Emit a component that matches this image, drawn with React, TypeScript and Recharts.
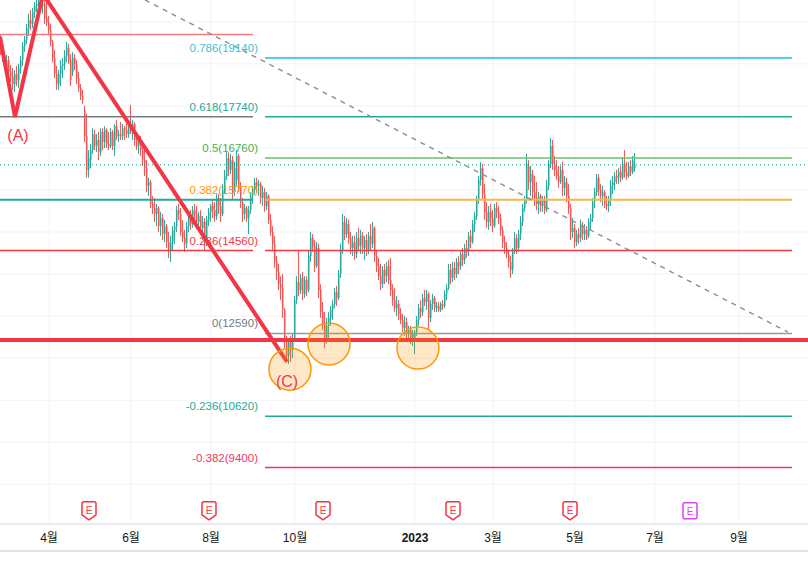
import React from 'react'
import {
  ComposedChart,
  Bar,
  Line,
  XAxis,
  YAxis,
  CartesianGrid,
  ReferenceLine,
  ReferenceDot,
} from 'recharts'

// daily candles [open, high, low, close], one array per month
const mar22 = [
  [19450, 19690, 19210, 19330], [19330, 19450, 19040, 19140], [19140, 19280, 18850, 18950], [18950, 19210, 18810, 19090],
  [19090, 19190, 18660, 18810], [18810, 18970, 18570, 18710], [18710, 18900, 18380, 18520], [18520, 18850, 18330, 18760],
  [18760, 18950, 18470, 18620], [18620, 19000, 18430, 18900], [18900, 19190, 18760, 19090], [19090, 19520, 18950, 19420],
  [19420, 19660, 19280, 19570], [19570, 19950, 19470, 19850], [19850, 20190, 19660, 20040], [20040, 20280, 19800, 19950],
  [19950, 20330, 19850, 20230], [20230, 20470, 20090, 20380], [20380, 20570, 20230, 20420], [20420, 20610, 20280, 20470],
  [20470, 20660, 20330, 20380], [20380, 20570, 20190, 20420], [20420, 20590, 19950, 20090], [20090, 20470, 19900, 19990],
]
const apr22 = [
  [19990, 20140, 19710, 19800], [19800, 19950, 19420, 19520], [19520, 19570, 19040, 19140], [19140, 19330, 18660, 18760],
  [18760, 18950, 18380, 18520], [18520, 18850, 18380, 18760], [18760, 19090, 18470, 18950], [18950, 19140, 18660, 19000],
  [19000, 19330, 18850, 19190], [19190, 19520, 19040, 19380], [19380, 19470, 19000, 19090], [19090, 19230, 18470, 18620],
  [18810, 19280, 18710, 19140], [19140, 19230, 18850, 19000], [19000, 19090, 18520, 18660], [18660, 18810, 18330, 18430],
  [18430, 18520, 18140, 18240], [18240, 18380, 18050, 18140], [17900, 18000, 17140, 17280], [17280, 17810, 16290, 16480],
  [16480, 16950, 16290, 16760],
]
const may22 = [
  [16710, 17090, 16520, 16950], [16950, 17470, 16860, 17330], [17330, 17430, 16950, 17050], [17050, 17330, 16900, 17190],
  [17190, 17380, 16710, 16900], [16900, 17470, 16810, 17380], [17380, 17470, 16950, 17140], [17140, 17520, 17000, 17430],
  [17430, 17470, 17000, 17090], [17090, 17380, 16950, 17050], [17050, 17470, 17000, 17380], [17380, 17430, 16950, 17050],
  [17050, 17570, 16810, 17520], [17520, 17660, 17190, 17280], [17280, 17430, 17140, 17330], [17330, 17620, 17190, 17280],
  [17280, 17570, 17190, 17470], [17470, 17520, 17190, 17430], [17430, 17570, 17240, 17330], [17330, 17520, 17240, 17470],
]
const jun22 = [
  [17470, 18020, 17330, 17430], [17430, 17660, 17190, 17570], [17570, 17620, 17050, 17190], [17190, 17330, 16950, 17050],
  [17050, 17240, 16860, 17140], [17140, 17280, 16810, 16950], [16950, 17050, 16570, 16710], [16710, 16950, 16330, 16520],
  [16520, 16710, 15950, 16100], [16100, 16290, 15860, 16190], [16190, 16240, 15570, 15670], [15670, 15860, 15430, 15570],
  [15570, 15810, 15240, 15430], [15430, 15670, 15140, 15570], [15570, 15620, 15000, 15140], [15140, 15480, 14910, 15330],
  [15330, 15430, 14810, 14950], [14950, 15290, 14760, 15140], [15140, 15190, 14620, 14760], [14760, 15000, 14380, 14570],
]
const jul22 = [
  [14570, 14910, 14290, 14760], [14760, 15140, 14570, 15050], [15050, 15240, 14720, 15140], [15140, 15620, 15000, 15520],
  [15520, 15670, 15290, 15430], [15430, 15570, 14910, 15000], [15000, 15290, 14760, 14860], [14860, 15050, 14530, 14720],
  [14720, 15240, 14620, 15140], [15140, 15480, 15000, 15380], [15380, 15520, 15050, 15190], [15190, 15620, 15100, 15520],
  [15520, 15670, 15190, 15430], [15430, 15620, 15100, 15240], [15240, 15480, 15050, 15380], [15380, 15520, 15000, 15100],
  [15100, 15380, 14810, 15240], [15240, 15330, 14570, 14760], [14760, 15380, 14670, 15290], [15290, 15570, 15140, 15480],
]
const aug22 = [
  [15480, 15670, 15240, 15620], [15620, 15760, 15330, 15520], [15520, 15710, 15240, 15380], [15380, 15900, 15290, 15810],
  [15810, 15900, 15430, 15620], [15620, 15810, 15240, 15430], [15430, 16140, 15380, 16000], [16000, 16480, 15900, 16330],
  [16330, 16900, 16240, 16760], [16760, 16900, 16330, 16480], [16480, 16860, 16380, 16710], [16710, 16810, 15760, 15950],
  [15950, 16670, 15860, 16520], [16240, 16950, 16100, 16810], [16810, 16860, 15950, 16100], [16100, 16190, 15570, 15710],
  [15710, 15810, 15240, 15430], [15430, 15670, 15290, 15570], [15570, 15620, 15240, 15330], [15330, 15620, 14950, 15520],
  [15520, 15950, 15430, 15860], [15860, 16100, 15670, 16000],
]
const sep22 = [
  [16000, 16290, 15900, 16190], [16190, 16290, 15950, 16100], [16100, 16240, 15860, 16140], [16140, 16190, 15670, 15810],
  [15810, 16100, 15620, 15950], [15950, 16050, 15480, 15620], [15620, 15950, 15520, 15860], [15860, 15900, 15190, 15290],
  [15290, 15430, 14910, 15000], [15000, 15140, 14570, 14720], [14720, 14910, 14150, 14290], [14290, 14430, 13860, 14050],
  [14050, 14240, 13620, 13760], [13760, 13950, 13380, 13670], [13670, 14000, 12960, 13150], [13150, 13190, 12240, 12390],
  [12390, 12530, 11910, 12050], [12050, 12480, 11860, 12390], [12390, 12530, 11910, 12200], [12200, 12580, 12000, 12480],
]
const oct22 = [
  [12480, 13480, 12390, 13380], [13380, 13950, 13290, 13810], [13810, 14570, 13480, 13620], [13620, 14000, 13530, 13910],
  [13910, 14050, 13380, 13530], [13530, 13950, 13430, 13860], [13860, 13950, 13480, 13620], [13620, 14570, 13570, 14430],
  [14430, 15000, 14290, 14860], [14860, 14950, 14530, 14670], [14670, 14810, 14050, 14190], [14190, 14760, 14150, 14620],
  [14620, 14720, 13430, 13620], [13620, 13760, 12960, 13100], [13100, 13340, 12670, 12810], [12810, 13100, 12240, 12430],
  [12430, 12960, 12340, 12770], [12770, 13100, 12430, 12960], [12960, 13240, 12770, 13150],
]
const nov22 = [
  [13150, 13380, 12910, 13290], [13290, 13670, 13190, 13570], [13570, 13720, 13240, 13430], [13430, 14100, 13380, 14000],
  [14000, 14720, 13910, 14570], [14570, 15430, 14480, 15240], [15240, 15380, 14810, 14950], [14950, 15330, 14860, 15190],
  [15190, 15290, 14720, 14860], [14860, 15000, 14480, 14620], [14620, 14910, 14430, 14760], [14760, 14910, 14340, 14480],
  [14480, 15000, 14380, 14860], [14860, 15100, 14570, 14670], [14670, 15050, 14480, 14910], [14910, 15000, 14480, 14620],
  [14620, 14910, 14340, 14810], [14810, 14950, 14430, 14570], [14570, 15000, 14480, 14910], [14910, 15190, 14570, 14720],
  [14720, 15240, 14620, 15100],
]
const dec22 = [
  [15100, 15140, 14290, 14430], [14430, 14570, 14050, 14190], [14190, 14380, 13860, 13950], [13950, 14240, 13620, 13760],
  [13760, 14190, 13670, 14100], [14100, 14240, 13760, 13950], [13950, 14290, 13810, 14190], [14190, 14340, 13760, 13860],
  [13860, 14380, 13480, 13620], [13620, 13760, 13240, 13380], [13380, 13670, 13100, 13190], [13190, 13480, 13000, 13290],
  [13290, 13380, 12910, 13050], [13050, 13190, 12810, 12910], [12910, 13050, 12620, 12720], [12720, 13000, 12530, 12860],
  [12860, 12960, 12480, 12580], [12580, 12770, 12430, 12670], [12670, 12770, 12340, 12480], [12480, 12670, 12290, 12580],
]
const jan23 = [
  [12390, 12670, 12100, 12620], [12620, 13000, 12530, 12910], [12910, 13290, 12770, 13190], [13190, 13380, 12960, 13100],
  [13100, 13530, 13000, 13430], [13430, 13620, 13240, 13340], [13340, 13620, 13150, 13530], [13530, 13570, 12670, 12960],
  [12960, 13380, 12860, 13290], [13290, 13530, 13150, 13430], [13430, 13480, 13100, 13190], [13190, 13340, 13100, 13240],
  [13240, 13340, 13100, 13150], [13150, 13340, 13100, 13290], [13290, 13380, 13150, 13240], [13240, 13620, 13190, 13530],
  [13530, 13760, 13380, 13670], [13670, 14240, 13620, 14100], [14100, 14240, 13760, 13910],
]
const feb23 = [
  [13910, 14290, 13810, 14150], [14150, 14290, 13860, 14000], [14000, 14380, 13910, 14290], [14290, 14430, 14000, 14190],
  [14190, 14570, 14100, 14480], [14480, 14620, 14190, 14340], [14340, 14720, 14240, 14620], [14620, 14810, 14380, 14530],
  [14530, 15000, 14430, 14910], [14910, 15050, 14620, 14760], [14760, 15290, 14720, 15190], [15190, 15480, 15000, 15380],
  [15380, 15860, 15290, 15760], [15760, 16330, 15670, 16240], [16240, 16670, 16100, 16520], [16520, 16620, 15760, 15900],
  [15900, 16140, 15290, 15480], [15480, 15710, 15100, 15240], [15240, 15620, 15050, 15480], [15480, 15670, 15140, 15330],
]
const mar23 = [
  [15330, 15520, 15000, 15140], [15140, 15670, 15100, 15570], [15570, 15710, 15330, 15480], [15480, 15620, 15190, 15330],
  [15330, 15430, 14910, 15050], [15050, 15140, 14620, 14760], [14760, 14910, 14480, 14620], [14620, 14760, 14380, 14480],
  [14480, 14570, 14150, 14290], [14290, 14430, 13910, 14100], [14100, 14620, 14000, 14570], [14570, 15000, 14480, 14860],
  [14860, 14950, 14480, 14620], [14620, 15050, 14530, 14950], [14950, 15380, 14810, 15240], [15240, 15670, 15140, 15570],
  [15570, 15860, 15480, 15760], [15760, 16860, 15670, 16620], [16570, 16710, 16000, 16190], [16190, 16570, 15860, 16380],
  [16380, 16480, 15760, 15950], [15950, 16330, 15620, 15810],
]
const apr23 = [
  [15810, 16190, 15520, 15670], [15670, 15950, 15430, 15860], [15860, 15900, 15480, 15620], [15620, 15860, 15480, 15760],
  [15760, 15860, 15430, 15520], [15520, 16240, 15480, 16100], [16100, 16710, 16000, 16620], [16620, 17240, 16520, 17050],
  [17050, 17190, 16480, 16620], [16620, 16810, 16330, 16480], [16480, 16710, 16240, 16330], [16330, 16570, 16050, 16190],
  [16190, 16570, 16140, 16480], [16480, 16670, 15860, 16050], [16050, 16330, 15860, 16190], [16190, 16290, 15710, 15860],
  [15860, 16140, 15430, 15570], [15570, 15670, 14810, 15000], [15000, 15330, 14860, 15100],
]
const may23 = [
  [15100, 15190, 14620, 14760], [14760, 15050, 14670, 14950], [14950, 15100, 14720, 14860], [14860, 15290, 14760, 15140],
  [15140, 15240, 14810, 14950], [14950, 15190, 14810, 15050], [15050, 15140, 14810, 14910], [14910, 15330, 14860, 15240],
  [15240, 15430, 15050, 15330], [15330, 15810, 15240, 15710], [15710, 16050, 15570, 15950], [15950, 16380, 15860, 16290],
  [16290, 16380, 15860, 16000], [16000, 16140, 15710, 15860], [15860, 16100, 15620, 15950], [15950, 16000, 15570, 15670],
  [15670, 15860, 15520, 15620], [15620, 15860, 15480, 15760], [15760, 16240, 15620, 16100], [16100, 16330, 15900, 16190],
]
const jun23 = [
  [16190, 16430, 16000, 16330], [16330, 16480, 16140, 16290], [16290, 16520, 16140, 16430], [16430, 16570, 16190, 16290],
  [16290, 16760, 16240, 16620], [16620, 16950, 16290, 16430], [16430, 16670, 16240, 16330], [16330, 16670, 16290, 16570],
  [16570, 16710, 16330, 16430], [16430, 16810, 16380, 16710], [16520, 16880, 16430, 16600],
]

// x axis: bar index of the first session of each labelled month
const monthTicks = [24, 65, 105, 147, 207, 246, 287, 327, 369]
const monthLabels = ['4월', '6월', '8월', '10월', '2023', '3월', '5월', '7월', '9월']

// fibonacci retracement drawn from the (C) low
const fibRatios = ['0.786', '0.618', '0.5', '0.382', '0.236', '0', '-0.236', '-0.382']
const fibPrices = [19140, 17740, 16760, 15770, 14560, 12590, 10620, 9400]

// older levels on the left part of the chart
const oldLevels = [19700, 17740, 15770, 14560]

// wave line (A) -> peak -> (C)
const waveBars = [-0.5, 7, 21, 143]
const wavePrices = [19640, 17740, 20660, 11910]

const supportPrice = 12430
const earningsBars = [44, 104, 161, 226, 284.5, 344.5]
const touchBars = [144.5, 164, 208.5]
const touchPrices = [11740, 12340, 12240]

const candles = [
  ...mar22, ...apr22, ...may22, ...jun22, ...jul22, ...aug22, ...sep22, ...oct22,
  ...nov22, ...dec22, ...jan23, ...feb23, ...mar23, ...apr23, ...may23, ...jun23,
].map((c, i) => ({ i, o: c[0], h: c[1], l: c[2], c: c[3] }))

const waveData = waveBars.map((b, k) => ({ i: b, p: wavePrices[k] }))
const lastClose = candles[candles.length - 1].c

const fibColors = ['#3FBCD6', '#22AB94', '#4CAF50', '#FF9800', '#F23645', '#787B86', '#22AB94', '#F23661']
const fibLineColors = ['#5BC9DE', '#22AB94', '#6BBF6E', '#F9B54C', '#F23645', '#9598A1', '#22AB94', '#F23661']
const oldColors = ['#F77C80', '#787B86', '#22AB94', '#F23645']

const FONT = '"Liberation Sans", Arial, "Noto Sans CJK KR", sans-serif'
const UP = '#26A69A'
const DOWN = '#EF5350'

const Candle = (props: any) => {
  const { x, y, width, height, payload } = props
  if (!payload || height == null) return null
  const { o, h, l, c } = payload
  const color = c >= o ? UP : DOWN
  const cx = x + width / 2
  const py = (v: number) => y + ((h - v) / (h - l || 1)) * height
  const top = py(Math.max(o, c))
  const bot = py(Math.min(o, c))
  return (
    <g>
      <rect x={cx - 1} y={top} width={1.8} height={Math.max(1, bot - top)} fill={color} fillOpacity={0.65} />
      <rect x={cx - 1} y={y} width={1} height={Math.max(1, height)} fill={color} />
    </g>
  )
}

const MonthTick = (props: any) => {
  const { x, payload } = props
  const k = monthTicks.indexOf(payload.value)
  const label = monthLabels[k]
  return (
    <text x={x} y={542} textAnchor="middle" fontSize={12} fontFamily={FONT} fill="#131722" fontWeight={label === '2023' ? 600 : 400}>
      {label}
    </text>
  )
}

const Earnings = (props: any) => {
  const { cx, cy, last } = props
  const col = last ? '#E040FB' : '#F23645'
  if (last) {
    return (
      <g>
        <rect x={cx - 7} y={cy - 8} width={14} height={16} rx={1.5} fill="#fff" stroke={col} strokeWidth={1.5} />
        <text x={cx} y={cy + 4} textAnchor="middle" fontSize={10} fontFamily={FONT} fill={col}>E</text>
      </g>
    )
  }
  const d = `M${cx - 7},${cy - 7} Q${cx - 7},${cy - 9} ${cx - 5},${cy - 9} L${cx + 5},${cy - 9} Q${cx + 7},${cy - 9} ${cx + 7},${cy - 7} L${cx + 7},${cy + 4} L${cx},${cy + 9} L${cx - 7},${cy + 4} Z`
  return (
    <g>
      <path d={d} fill="#fff" stroke={col} strokeWidth={1.5} strokeLinejoin="round" />
      <text x={cx} y={cy + 3} textAnchor="middle" fontSize={10} fontFamily={FONT} fill={col}>E</text>
    </g>
  )
}

export default function App() {
  const gridPrices = [9000, 10000, 11000, 12000, 13000, 14000, 15000, 16000, 17000, 18000, 19000, 20000]
  return (
    <div style={{ position: 'absolute', left: 0, top: 0, width: 808, height: 563, background: '#fff' }}>
      <ComposedChart width={808} height={563} data={candles} margin={{ top: 0, right: 0, bottom: 0, left: 0 }}>
        <CartesianGrid stroke="#F0F3FA" horizontalValues={gridPrices} verticalValues={monthTicks} />
        <XAxis
          dataKey="i"
          type="number"
          domain={[-0.5, 403.5]}
          allowDataOverflow
          ticks={monthTicks}
          tick={<MonthTick />}
          tickLine={false}
          axisLine={{ stroke: '#E0E3EB', strokeWidth: 1.5 }}
          height={39}
          interval={0}
        />
        <YAxis type="number" domain={[8057, 20518]} allowDataOverflow hide ticks={gridPrices} />

        {oldLevels.map((p, k) => (
          <ReferenceLine key={'old' + k} segment={[{ x: -0.5, y: p }, { x: 126, y: p }]} stroke={oldColors[k]} strokeWidth={k === 2 ? 2 : 1.5} ifOverflow="visible" />
        ))}
        {fibPrices.map((p, k) => (
          <ReferenceLine key={'fib' + k} segment={[{ x: 132, y: p }, { x: 395.5, y: p }]} stroke={fibLineColors[k]} strokeWidth={k === 0 || k === 3 ? 2 : 1.5} ifOverflow="visible" />
        ))}
        <ReferenceLine segment={[{ x: 72, y: 20518 }, { x: 393.5, y: 12620 }]} stroke="#8A8D96" strokeDasharray="5 5" strokeWidth={1.4} ifOverflow="visible" />
        <ReferenceLine y={lastClose} stroke="#089981" strokeDasharray="1 3" strokeWidth={1} />

        {fibPrices.map((p, k) => (
          <ReferenceDot
            key={'lab' + k}
            x={128.5}
            y={p}
            ifOverflow="visible"
            shape={(s: any) => (
              <text x={s.cx} y={s.cy - 6} textAnchor="end" fontSize={11.5} fontFamily={FONT} fill={fibColors[k]}>
                {fibRatios[k]}({p})
              </text>
            )}
          />
        ))}

        <Bar dataKey={(d: any) => [d.l, d.h]} shape={<Candle />} isAnimationActive={false} barSize={2} />

        <ReferenceLine y={supportPrice} stroke="#F23645" strokeWidth={4} />
        <Line data={waveData} dataKey="p" stroke="#F23645" strokeWidth={4} dot={false} activeDot={false} isAnimationActive={false} type="linear" />

        {touchBars.map((b, k) => (
          <ReferenceDot key={'t' + k} x={b} y={touchPrices[k]} r={21} fill="#FF9800" fillOpacity={0.22} stroke="#FF9800" strokeWidth={1.5} ifOverflow="visible" />
        ))}

        <ReferenceDot x={8.5} y={17310} ifOverflow="visible" shape={(s: any) => (
          <text x={s.cx} y={s.cy + 6} textAnchor="middle" fontSize={16} fontFamily={FONT} fill="#F23645">(A)</text>
        )} />
        <ReferenceDot x={143} y={11460} ifOverflow="visible" shape={(s: any) => (
          <text x={s.cx} y={s.cy + 6} textAnchor="middle" fontSize={16} fontFamily={FONT} fill="#F23645">(C)</text>
        )} />

        {earningsBars.map((b, k) => (
          <ReferenceDot key={'e' + k} x={b} y={8370} ifOverflow="visible" shape={(s: any) => <Earnings {...s} last={k === earningsBars.length - 1} />} />
        ))}
      </ComposedChart>
      <div style={{ position: 'absolute', left: 0, top: 550, width: 808, height: 2, background: '#E0E3EB' }} />
    </div>
  )
}
